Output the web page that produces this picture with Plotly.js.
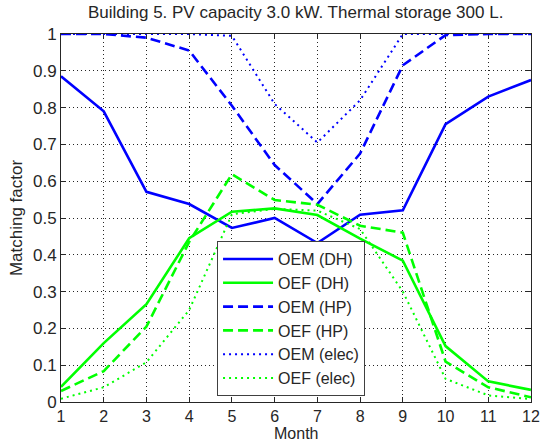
<!DOCTYPE html>
<html>
<head>
<meta charset="utf-8">
<script src="https://cdn.plot.ly/plotly-3.0.1.min.js"></script>
<style>html,body{margin:0;padding:0;background:#fff;}#chart{width:541px;height:444px;}</style>
</head>
<body>
<div id="chart"></div>
<script>
var months = [1,2,3,4,5,6,7,8,9,10,11,12];
var oemDH   = [0.885,0.79,0.571,0.538,0.473,0.50,0.432,0.509,0.521,0.755,0.83,0.875];
var oefDH   = [0.041,0.16,0.266,0.445,0.517,0.526,0.508,0.444,0.384,0.152,0.056,0.033];
var oemHP   = [1.0,1.0,0.99,0.955,0.805,0.644,0.538,0.675,0.915,0.997,1.0,1.0];
var oefHP   = [0.03,0.084,0.205,0.435,0.619,0.549,0.536,0.479,0.46,0.11,0.04,0.013];
var oemElec = [1.0,1.0,1.0,1.0,0.995,0.81,0.705,0.82,1.0,1.0,1.0,1.0];
var oefElec = [0.009,0.04,0.108,0.25,0.51,0.525,0.52,0.47,0.30,0.063,0.018,0.008];
var names   = ['OEM (DH)','OEF (DH)','OEM (HP)','OEF (HP)','OEM (elec)','OEF (elec)'];
var yTicks  = [0,0.1,0.2,0.3,0.4,0.5,0.6,0.7,0.8,0.9,1];
var yLabels = ['0','0.1','0.2','0.3','0.4','0.5','0.6','0.7','0.8','0.9','1'];

var BLUE = '#0000ff', GREEN = '#00ff00';
var DASH = '10px,5px', DOT = '2px,4px';
function tr(y, name, color, dash, w) {
  return {x: months, y: y, name: name, type: 'scatter', mode: 'lines',
          line: {color: color, width: w, dash: dash}};
}
var data = [
  tr(oemDH, names[0], BLUE, 'solid', 2.6),
  tr(oefDH, names[1], GREEN, 'solid', 2.6),
  tr(oemHP, names[2], BLUE, DASH, 2.6),
  tr(oefHP, names[3], GREEN, DASH, 2.6),
  tr(oemElec, names[4], BLUE, DOT, 2),
  tr(oefElec, names[5], GREEN, DOT, 2)
];
var FONT = 'Liberation Sans, Arial, sans-serif';
var FS = 17, TC = '#262626';
var axisCommon = {
  showline: true, linecolor: TC, linewidth: 1, mirror: 'ticks',
  ticks: 'inside', ticklen: 5, tickcolor: TC, tickwidth: 1,
  showgrid: true, gridcolor: TC, gridwidth: 1, griddash: '1px,3px',
  zeroline: false, layer: 'below traces',
  tickfont: {family: FONT, size: FS, color: TC}
};
var layout = {
  width: 541, height: 444,
  margin: {l: 61, r: 10, t: 34, b: 42},
  paper_bgcolor: '#ffffff', plot_bgcolor: '#ffffff',
  font: {family: FONT, size: FS, color: TC},
  title: {text: 'Building 5. PV capacity 3.0 kW. Thermal storage 300 L.',
          x: 0.5465, xref: 'container', xanchor: 'center',
          y: 0.973, yref: 'container', yanchor: 'middle',
          font: {family: FONT, size: FS, color: TC}},
  xaxis: Object.assign({}, axisCommon, {
    range: [1, 12], tickmode: 'array', tickvals: months, ticktext: months.map(String),
    tickfont: {family: FONT, size: 16, color: TC}
  }),
  yaxis: Object.assign({}, axisCommon, {
    range: [0, 1], tickmode: 'array', tickvals: yTicks, ticktext: yLabels,
    title: {text: 'Matching factor', standoff: 6, font: {family: FONT, size: FS, color: TC}}
  }),
  annotations: [{
    text: 'Month', xref: 'paper', yref: 'paper', x: 0.5, y: -0.112,
    xanchor: 'center', yanchor: 'bottom', showarrow: false, borderpad: 0,
    font: {family: FONT, size: 16, color: TC}
  }],
  showlegend: true,
  legend: {x: 0.332, y: 0.016, xanchor: 'left', yanchor: 'bottom',
           bgcolor: '#ffffff', bordercolor: '#404040', borderwidth: 1,
           font: {family: FONT, size: 16, color: TC},
           itemwidth: 50, tracegroupgap: 0}
};
Plotly.newPlot('chart', data, layout, {displayModeBar: false, staticPlot: true});
</script>
</body>
</html>
